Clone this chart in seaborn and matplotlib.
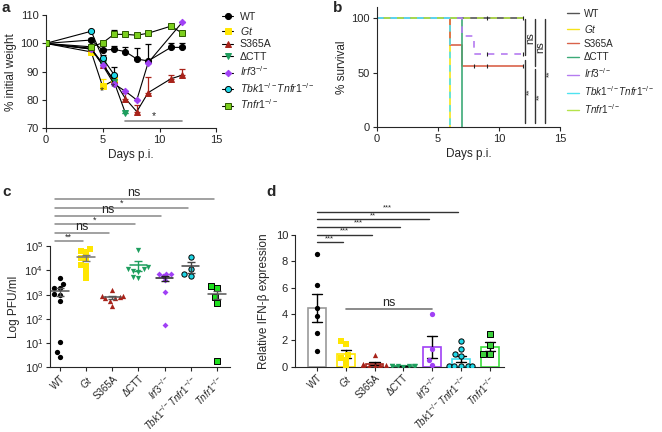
import warnings
import numpy as np
import pandas as pd
import matplotlib
matplotlib.use("Agg")
import matplotlib.pyplot as plt
import seaborn as sns

warnings.filterwarnings("ignore")

# ====================================================================================================
# Data
# ====================================================================================================

groups = ["WT", "Gt", "S365A", "dCTT", "Irf3", "Tbk1Tnfr1", "Tnfr1"]
groupLabels = ["WT", r"$\mathit{Gt}$", "S365A", "ΔCTT", r"$\mathit{Irf3}^{-/-}$",
               r"$\mathit{Tbk1}^{-/-}\mathit{Tnfr1}^{-/-}$", r"$\mathit{Tnfr1}^{-/-}$"]

# --- a : weight (mean, upper SEM)
wtDays = [0, 4, 5, 6, 7, 8, 9, 11, 12]
wtWeight = [100, 101.2, 97.6, 97.9, 97.1, 94.5, 93.8, 98.6, 98.6]
wtSem = [0, 0.8, 0.6, 1.3, 1.7, 4.0, 6.0, 1.6, 1.4]
gtDays = [0, 4, 5, 6]
gtWeight = [100, 97.0, 84.8, 87.0]
gtSem = [0, 0, 2.7, 0]
s365aDays = [0, 4, 5, 6, 7, 8, 9, 11, 12]
s365aWeight = [100, 98.3, 92.5, 87.0, 80.5, 75.9, 82.6, 87.5, 88.8]
s365aSem = [0, 0, 0, 0, 1.9, 2.3, 5.7, 1.4, 2.1]
dcttDays = [0, 4, 5, 6, 7]
dcttWeight = [100, 98.0, 93.0, 86.5, 75.4]
dcttSem = [0, 0, 0, 0, 0]
irf3Days = [0, 4, 5, 6, 7, 8, 9, 12]
irf3Weight = [100, 98.0, 92.3, 85.7, 83.1, 80.0, 93.2, 107.5]
irf3Sem = [0, 0, 0, 0, 0, 0, 0, 0]
tbkDays = [0, 4, 5, 6]
tbkWeight = [100, 104.3, 94.8, 89.0]
tbkSem = [0, 0.5, 1.0, 2.8]
tnfr1Days = [0, 4, 5, 6, 7, 8, 9, 11, 12]
tnfr1Weight = [100, 98.8, 100.2, 103.2, 103.2, 102.9, 103.6, 106.1, 103.6]
tnfr1Sem = [0, 0, 0, 1.5, 0, 0, 0, 0.6, 0.5]

# --- b : survival (step times, % surviving)
wtSurvT = [0, 12]
wtSurv = [100, 100]
gtSurvT = [0, 6]
gtSurv = [100, 0]
s365aSurvT = [0, 6, 7, 12]
s365aSurv = [100, 75, 56.25, 56.25]
dcttSurvT = [0, 7]
dcttSurv = [100, 0]
irf3SurvT = [0, 7, 8, 12]
irf3Surv = [100, 83.3, 66.7, 66.7]
tbkSurvT = [0, 6]
tbkSurv = [100, 0]
tnfr1SurvT = [0, 12]
tnfr1Surv = [100, 100]
censorT = [9, 12, 9, 12, 8, 9, 12]
censorS = [100, 100, 66.7, 66.7, 56.25, 56.25, 56.25]

# --- c : viral titre (PFU/ml)
wtPfu = [4900, 2700, 1800, 1900, 1100, 1000, 550, 11, 4.2, 2.7]
gtPfu = [80000, 66000, 56000, 33000, 30000, 17000, 15000, 9000, 4900]
s365aPfu = [1500, 900, 850, 800, 750, 700, 550, 350]
dcttPfu = [70000, 14000, 12000, 11000, 9500, 9000, 5200, 5000]
irf3Pfu = [7400, 7400, 7400, 6000, 4200, 1300, 55]
tbkPfu = [36000, 11000, 6800, 5900]
tnfr1Pfu = [2200, 1800, 800, 460, 1.8]
cSigLabels = ["**", "ns", "*", "ns", "*", "ns"]

# --- d : IFN-b expression
wtIfn = [8.56, 6.18, 4.43, 3.87, 2.53, 1.22]
gtIfn = [1.95, 1.7, 0.9, 0.7, 0.55, 0.1]
s365aIfn = [0.9, 0.2, 0.15, 0.1, 0.1, 0.05, 0.05]
dcttIfn = [0.08, 0.05, 0.05, 0.04, 0.03, 0.03, 0.02]
irf3Ifn = [4.0, 1.35, 0.5, 0.15]
tbkIfn = [1.92, 1.37, 0.94, 0.8, 0.05, 0.05, 0.05, 0.05, 0.05]
tnfr1Ifn = [2.45, 1.65, 1.0, 1.0]
dSigLabels = ["***", "***", "***", "**", "***"]

# ====================================================================================================
# Style
# ====================================================================================================

sns.set_style("ticks")
plt.rcParams["font.family"] = ["Liberation Sans", "DejaVu Sans"]
plt.rcParams["mathtext.fontset"] = "custom"
plt.rcParams["mathtext.rm"] = "Liberation Sans"
plt.rcParams["mathtext.it"] = "Liberation Sans:italic"
plt.rcParams["font.size"] = 8
plt.rcParams["axes.linewidth"] = 0.8
plt.rcParams["xtick.major.size"] = 3
plt.rcParams["ytick.major.size"] = 3
plt.rcParams["xtick.major.width"] = 0.8
plt.rcParams["ytick.major.width"] = 0.8
plt.rcParams["xtick.major.pad"] = 2
plt.rcParams["ytick.major.pad"] = 2
plt.rcParams["xtick.labelsize"] = 8
plt.rcParams["ytick.labelsize"] = 8

markers = ["o", "s", "^", "v", "D", "o", "s"]
colA = ["black", "#FFE600", "#A8231A", "#1E9E5E", "#A040F5", "#1ED6E6", "#7CCF1E"]
edgeA = ["black", "#FFE600", "#A8231A", "#1E9E5E", "#A040F5", "black", "#2D5A00"]
errA = ["black", "#FFE600", "#A8231A", "#1E9E5E", "#A040F5", "black", "black"]
colB = ["#555555", "#F5E31A", "#D9624A", "#3DAA78", "#B57CF0", "#4FE3F0", "#B5E34A"]
colC = ["black", "#FFE600", "#A8231A", "#1E9E5E", "#A040F5", "#1ED6E6", "#1EE01E"]
edgeC = ["black", "#FFE600", "#A8231A", "#1E9E5E", "#A040F5", "black", "black"]
meanC = ["#555555", "#777777", "#555555", "#1E9E5E", "#222222", "#444444", "#555555"]
barD = ["#999999", "#FFE600", "#A8231A", "#1E9E5E", "#A040F5", "#3FE0F0", "#3CE03C"]
ptD = ["black", "#FFE600", "#A8231A", "#1E9E5E", "#A040F5", "#1ED6E6", "#3CD03C"]
edgeD = ["black", "#FFE600", "#A8231A", "#1E9E5E", "#A040F5", "black", "black"]
markersD = ["o", "s", "^", "v", "o", "o", "s"]

fig = plt.figure(figsize=(6.62, 4.32), dpi=100)

# ====================================================================================================
# a : weight
# ====================================================================================================

axA = fig.add_axes([0.069, 0.703, 0.258, 0.262])
aSeries = [(wtDays, wtWeight, wtSem), (gtDays, gtWeight, gtSem), (s365aDays, s365aWeight, s365aSem),
           (dcttDays, dcttWeight, dcttSem), (irf3Days, irf3Weight, irf3Sem), (tbkDays, tbkWeight, tbkSem),
           (tnfr1Days, tnfr1Weight, tnfr1Sem)]
for i, (d, w, s) in enumerate(aSeries):
    s = np.array(s)
    axA.errorbar(d, w, yerr=[np.zeros_like(s), s], fmt="none", ecolor=errA[i], elinewidth=0.9,
                 capsize=2.2, capthick=0.9, zorder=2)
    sns.lineplot(x=d, y=w, ax=axA, color="black", linewidth=0.8, sort=False, estimator=None,
                 marker=markers[i], markersize=4.4 if markers[i] != "D" else 3.3,
                 markerfacecolor=colA[i], markeredgecolor=edgeA[i], markeredgewidth=0.7,
                 label=groupLabels[i], zorder=3)
axA.plot([7, 12], [72.5, 72.5], color="#888888", lw=1.2)
axA.text(9.5, 72.6, "*", ha="center", va="bottom", fontsize=7.5)
axA.text(4.9, 81.3, "*", ha="center", va="bottom", fontsize=7.5)
axA.text(5.9, 82.7, "*", ha="center", va="bottom", fontsize=7.5)
axA.set_xlim(0, 15)
axA.set_ylim(70, 110)
axA.set_xticks([0, 5, 10, 15])
axA.set_yticks([70, 80, 90, 100, 110])
axA.set_xlabel("Days p.i.", fontsize=8.5, labelpad=3)
axA.set_ylabel("% initial weight", fontsize=8.5, labelpad=2)
sns.despine(ax=axA)
axA.legend(loc="upper left", bbox_to_anchor=(0.335, 0.972), bbox_transform=fig.transFigure,
           frameon=False, fontsize=7.6, handlelength=1.1, handletextpad=0.6, labelspacing=0.25,
           borderpad=0, borderaxespad=0)

# ====================================================================================================
# b : survival
# ====================================================================================================

axB = fig.add_axes([0.569, 0.7067, 0.277, 0.276])
bSeries = [(wtSurvT, wtSurv, "-"), (gtSurvT, gtSurv, "-"), (s365aSurvT, s365aSurv, "-"),
           (dcttSurvT, dcttSurv, "-"), (irf3SurvT, irf3Surv, (0, (4, 4))),
           (tbkSurvT, tbkSurv, (0, (4, 4))), (tnfr1SurvT, tnfr1Surv, (4, (4, 4)))]
for i, (t, sv, ls) in enumerate(bSeries):
    sns.lineplot(x=t, y=sv, ax=axB, color=colB[i], linewidth=1.2, linestyle=ls, sort=False,
                 estimator=None, drawstyle="steps-post", label=groupLabels[i])
axB.plot(censorT, censorS, linestyle="none", marker="|", color="#222222", markersize=3, mew=0.8)
for (x, y0, y1) in [(12.15, 99, 66), (12.15, 62, 3), (12.95, 99, 56), (12.95, 53, 3), (13.75, 99, 3)]:
    axB.plot([x, x], [y0, y1], color="#333333", lw=1, clip_on=False)
axB.text(12.55, 82, "ns", rotation=90, ha="center", va="center", fontsize=8)
axB.text(13.35, 73, "ns", rotation=90, ha="center", va="center", fontsize=8)
axB.text(12.55, 32, "**", rotation=90, ha="center", va="center", fontsize=6)
axB.text(13.35, 28, "**", rotation=90, ha="center", va="center", fontsize=6)
axB.text(14.15, 49, "**", rotation=90, ha="center", va="center", fontsize=6)
axB.set_xlim(0, 15)
axB.set_ylim(0, 110)
axB.set_xticks([0, 5, 10, 15])
axB.set_yticks([0, 50, 100])
axB.set_xlabel("Days p.i.", fontsize=8.5, labelpad=3)
axB.set_ylabel("% survival", fontsize=8.5, labelpad=2)
sns.despine(ax=axB)
hB, lB = axB.get_legend_handles_labels()
axB.legend(hB[:7], lB[:7], loc="upper left", bbox_to_anchor=(0.857, 0.98),
           bbox_transform=fig.transFigure, frameon=False, fontsize=7.1, handlelength=1.15,
           handletextpad=0.5, labelspacing=0.4, borderpad=0, borderaxespad=0)
for ln in axB.get_legend().get_lines():
    ln.set_linestyle("-")
    ln.set_linewidth(1.0)

# ====================================================================================================
# c : titre
# ====================================================================================================

axC = fig.add_axes([0.0755, 0.150, 0.272, 0.280])
axC.set_yscale("log")
cData = [wtPfu, gtPfu, s365aPfu, dcttPfu, irf3Pfu, tbkPfu, tnfr1Pfu]
for i, vals in enumerate(cData):
    sns.swarmplot(x=[groups[i]] * len(vals), y=vals, order=groups, ax=axC, marker=markers[i],
                  color=colC[i], edgecolor=edgeC[i], linewidth=0.7 if edgeC[i] == "black" and i else 0,
                  size=3.8 if markers[i] != "D" else 3.0, zorder=3)
    m = np.mean(vals)
    se = np.std(vals, ddof=1) / np.sqrt(len(vals))
    axC.plot([i - 0.33, i + 0.33], [m, m], color=meanC[i], lw=1.1, zorder=4)
    axC.errorbar(i, m, yerr=se, fmt="none", ecolor=meanC[i], elinewidth=1.0, capsize=3,
                 capthick=1.0, zorder=4)
for k, lab in enumerate(cSigLabels):
    yy = 10 ** (5.2 + 0.35 * k)
    axC.plot([-0.2, k + 1 - 0.12], [yy, yy], color="#888888", lw=1.1, clip_on=False)
    axC.text((k + 1 - 0.32) / 2, yy * 0.97, lab, ha="center", va="bottom",
             fontsize=9 if lab == "ns" else 6.5)
axC.set_ylim(1, 1e5)
axC.set_xlim(-0.38, 6.5)
axC.minorticks_off()
axC.set_yticks([1, 10, 100, 1e3, 1e4, 1e5])
axC.set_xticks(range(7))
axC.set_xticklabels(groupLabels, rotation=45, ha="right", rotation_mode="anchor", fontsize=7.0)
axC.tick_params(axis="x", pad=1.5)
axC.set_xlabel("")
axC.set_ylabel("Log PFU/ml", fontsize=8.5, labelpad=3)
sns.despine(ax=axC)

# ====================================================================================================
# d : IFN-b
# ====================================================================================================

axD = fig.add_axes([0.4456, 0.151, 0.316, 0.305])
dData = [wtIfn, gtIfn, s365aIfn, dcttIfn, irf3Ifn, tbkIfn, tnfr1Ifn]
dfD = pd.DataFrame({"group": np.repeat(groups, [len(v) for v in dData]),
                    "value": np.concatenate(dData)})
sns.barplot(data=dfD, x="group", y="value", hue="group", order=groups, hue_order=groups,
            palette=dict(zip(groups, barD)), fill=False, width=0.62, linewidth=1.2,
            errorbar="se", capsize=0.35, err_kws={"color": "black", "linewidth": 1.0},
            legend=False, ax=axD)
for i, vals in enumerate(dData):
    sns.swarmplot(x=[groups[i]] * len(vals), y=vals, order=groups, ax=axD, marker=markersD[i],
                  color=ptD[i], edgecolor=edgeD[i], linewidth=0.7 if i >= 5 else 0,
                  size=3.8, zorder=3)
for k, lab in enumerate(dSigLabels):
    yy = 9.45 + 0.58 * k
    axD.plot([0, k + 1 - 0.1], [yy, yy], color="#333333", lw=1.0, clip_on=False)
    axD.text((k + 1 - 0.1) / 2, yy + 0.02, lab, ha="center", va="bottom", fontsize=5.5)
axD.plot([1, 4], [4.4, 4.4], color="#777777", lw=1.2)
axD.text(2.5, 4.4, "ns", ha="center", va="bottom", fontsize=9)
axD.set_ylim(0, 10)
axD.set_xlim(-0.76, 6.5)
axD.set_yticks([0, 2, 4, 6, 8, 10])
axD.set_xticks(range(7))
axD.set_xticklabels(groupLabels, rotation=45, ha="right", rotation_mode="anchor", fontsize=7.0)
axD.tick_params(axis="x", pad=1.5)
axD.set_xlabel("")
axD.set_ylabel("Relative IFN-β expression", fontsize=8.5, labelpad=4)
sns.despine(ax=axD)

# --- panel letters
for (x, y, s) in [(0.003, 0.998, "a"), (0.503, 0.998, "b"), (0.003, 0.572, "c"), (0.403, 0.572, "d")]:
    fig.text(x, y, s, fontsize=11, fontweight="bold", va="top", ha="left")

fig.savefig("out.png", dpi=100)
plt.close(fig)
